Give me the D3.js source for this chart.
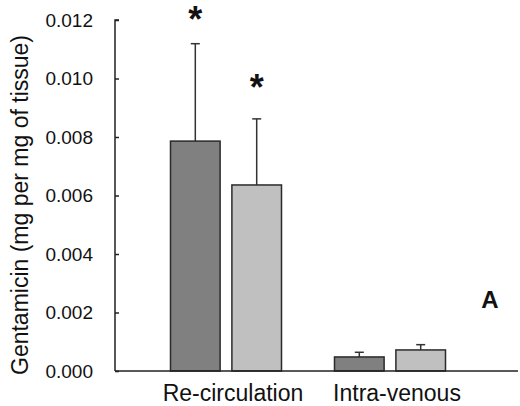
<!DOCTYPE html>
<html>
<head>
<meta charset="utf-8">
<script src="https://cdn.jsdelivr.net/npm/d3@7"></script>
<style>
  body { margin: 0; background: #fff; }
  text { font-family: "Liberation Sans", Arial, sans-serif; fill: #111; }
</style>
</head>
<body>
<script>
// data
var categories = ["Re-circulation", "Intra-venous"];
var series = ["dark", "light"];
var means = [[0.00786, 0.00636], [0.00048, 0.00072]];
var errors = [[0.00333, 0.00226], [0.00016, 0.00018]];
var stars = [["*", "*"], ["", ""]];
var yTicks = [0, 0.002, 0.004, 0.006, 0.008, 0.010, 0.012];

var width = 520,
    height = 406;

var colors = { dark: "#808080", light: "#c0c0c0" };

var svg = d3.select("body")
    .append("svg")
    .attr("width", width)
    .attr("height", height);

var y = d3.scaleLinear()
    .domain([0, 0.012])
    .range([371, 20]);

var x = d3.scaleBand()
    .domain(categories)
    .range([144, 472]);

var xs = d3.scaleBand()
    .domain(series)
    .range([26.5, 137.5])
    .paddingInner(0.192);

// y axis, ticks inward
var yAxis = d3.axisRight(y)
    .tickValues(yTicks)
    .tickSize(4)
    .tickFormat("");

var ya = svg.append("g")
    .attr("transform", "translate(115,0)")
    .call(yAxis);
ya.select(".domain").attr("d", "M4,20H0V371").attr("stroke", "#222").attr("stroke-width", 1.5).attr("fill", "none");
ya.selectAll(".tick line").attr("stroke", "#222").attr("stroke-width", 1.5);

svg.append("g").selectAll("text")
    .data(yTicks)
    .enter()
    .append("text")
    .attr("x", 93)
    .attr("y", function(d) { return y(d); })
    .attr("dy", "0.36em")
    .attr("text-anchor", "end")
    .style("font-size", "19px")
    .text(function(d) { return d3.format(".3f")(d); });

svg.append("text")
    .attr("transform", "translate(28,205) rotate(-90)")
    .attr("text-anchor", "middle")
    .style("font-size", "23px")
    .text("Gentamicin (mg per mg of tissue)");

// bars
var groups = svg.selectAll(".grp")
    .data(categories)
    .enter()
    .append("g")
    .attr("class", "grp")
    .attr("transform", function(d) { return "translate(" + x(d) + ",0)"; });

groups.each(function(cat, ci) {
    var g = d3.select(this);
    series.forEach(function(s, si) {
        var v = means[ci][si],
            e = errors[ci][si],
            bx = xs(s),
            cx = bx + xs.bandwidth() / 2;
        g.append("line")
            .attr("x1", cx).attr("x2", cx)
            .attr("y1", y(v)).attr("y2", y(v + e))
            .attr("stroke", "#333").attr("stroke-width", 1.5);
        g.append("line")
            .attr("x1", cx - 4.5).attr("x2", cx + 4.5)
            .attr("y1", y(v + e)).attr("y2", y(v + e))
            .attr("stroke", "#333").attr("stroke-width", 1.5);
        g.append("rect")
            .attr("x", bx)
            .attr("y", y(v))
            .attr("width", xs.bandwidth())
            .attr("height", y(0) - y(v))
            .attr("fill", colors[s])
            .attr("stroke", "#2a2a2a")
            .attr("stroke-width", 1.5);
        if (stars[ci][si]) {
            g.append("text")
                .attr("x", cx)
                .attr("y", y(v + e) - (si === 0 ? 12 : 19))
                .attr("text-anchor", "middle")
                .style("font-size", "36px")
                .style("font-weight", "bold")
                .text(stars[ci][si]);
        }
    });
});

// x baseline
svg.append("line")
    .attr("x1", 115).attr("x2", 518)
    .attr("y1", y(0)).attr("y2", y(0))
    .attr("stroke", "#222").attr("stroke-width", 1.5);

svg.append("g").selectAll("text")
    .data(categories)
    .enter()
    .append("text")
    .attr("x", function(d) { return x(d) + x.bandwidth() / 2 + 7; })
    .attr("y", 401)
    .attr("text-anchor", "middle")
    .style("font-size", "23px")
    .text(function(d) { return d; });

svg.append("text")
    .attr("x", 490)
    .attr("y", 308)
    .attr("text-anchor", "middle")
    .style("font-size", "24px")
    .style("font-weight", "bold")
    .text("A");
</script>
</body>
</html>
